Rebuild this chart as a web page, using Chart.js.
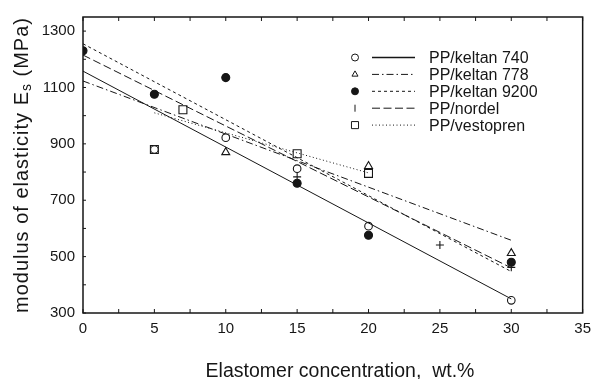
<!DOCTYPE html>
<html>
<head>
<meta charset="utf-8">
<script src="https://cdn.jsdelivr.net/npm/chart.js@4/dist/chart.umd.min.js"></script>
<style>
html,body{margin:0;padding:0;background:#fff;}
#wrap{width:598px;height:379px;}
</style>
</head>
<body>
<div id="wrap"><canvas id="chart" width="598" height="379"></canvas></div>
<script>
// axis ticks
const xTicks = [0, 5, 10, 15, 20, 25, 30, 35];
const yTicks = [300, 500, 700, 900, 1100, 1300];

const seriesNames = ['PP/keltan 740', 'PP/keltan 778', 'PP/keltan 9200', 'PP/nordel', 'PP/vestopren'];

// measured points
const k740X = [5, 10, 15, 20, 30];
const k740Y = [880, 922, 812, 608, 345];
const k778X = [10, 20, 30];
const k778Y = [870, 821, 512];
const k9200X = [0, 5, 10, 15, 20, 30];
const k9200Y = [1230, 1076, 1135, 760, 576, 480];
const nordelX = [15, 25, 30];
const nordelY = [783, 541, 462];
const vestoX = [5, 7, 15, 20];
const vestoY = [880, 1021, 865, 795];

// regression lines (end points)
const fit740X = [0, 30],  fit740Y = [1158, 350];
const fit778X = [0, 30],  fit778Y = [1123, 558];
const fit9200X = [0, 30], fit9200Y = [1255, 447];
const fitNordelX = [0, 30], fitNordelY = [1215, 460];
const fitVestoX = [5, 20], fitVestoY = [1010, 797];

const ink = '#161616';
const pts = (xs, ys) => xs.map((x, i) => ({x, y: ys[i]}));

const series = [
  {px: k740X, py: k740Y, fx: fit740X, fy: fit740Y, style: 'circle', r: 3.8, fill: '#fff', dash: [], legStyle: 'circle', legRot: 0},
  {px: k778X, py: k778Y, fx: fit778X, fy: fit778Y, style: 'triangle', r: 4.6, fill: '#fff', dash: [7, 3, 1.5, 3], legStyle: 'triangle', legRot: 0},
  {px: k9200X, py: k9200Y, fx: fit9200X, fy: fit9200Y, style: 'circle', r: 4, fill: ink, dash: [3, 3], legStyle: 'circle', legRot: 0},
  {px: nordelX, py: nordelY, fx: fitNordelX, fy: fitNordelY, style: 'cross', r: 4, fill: ink, dash: [8, 3.5], legStyle: 'line', legRot: 90},
  {px: vestoX, py: vestoY, fx: fitVestoX, fy: fitVestoY, style: 'rect', r: 5.6, fill: '#fff', dash: [1, 2.5], legStyle: 'rect', legRot: 0}
];

const datasets = [];
series.forEach((s, i) => {
  datasets.push({
    label: seriesNames[i] + ' fit', data: pts(s.fx, s.fy), showLine: true,
    borderColor: ink, borderWidth: 1, borderDash: s.dash, pointRadius: 0,
    clip: {left: 0, top: 0, right: 0, bottom: 0}
  });
  datasets.push({
    label: seriesNames[i], data: pts(s.px, s.py), showLine: false,
    pointStyle: s.style, pointRadius: s.r, pointBorderWidth: 1.1,
    pointBorderColor: ink, pointBackgroundColor: s.fill,
    clip: {left: 0, top: 0, right: 0, bottom: 0}
  });
});

const FONT = '"Liberation Sans", Arial, Helvetica, sans-serif';

const decor = {
  id: 'decor',
  afterDatasetsDraw(chart) {
    const {ctx, chartArea: a, scales: {x, y}} = chart;
    ctx.save();
    // frame
    ctx.strokeStyle = ink;
    ctx.lineWidth = 1.5;
    ctx.strokeRect(a.left, a.top, a.right - a.left, a.bottom - a.top);
    // inward ticks
    ctx.lineWidth = 1;
    ctx.beginPath();
    for (let v = 0; v <= 35; v += 2.5) {
      const px = x.getPixelForValue(v);
      ctx.moveTo(px, a.bottom); ctx.lineTo(px, a.bottom - 4);
      ctx.moveTo(px, a.top); ctx.lineTo(px, a.top + 4);
    }
    for (let v = 300; v <= 1300; v += 100) {
      const py = y.getPixelForValue(v);
      ctx.moveTo(a.left, py); ctx.lineTo(a.left + 3, py);
    }
    ctx.stroke();

    // legend
    ctx.font = '16px ' + FONT;
    ctx.textBaseline = 'middle';
    series.forEach((s, i) => {
      const ly = 57.5 + i * 16.9;
      ctx.strokeStyle = ink;
      ctx.fillStyle = s.fill;
      ctx.lineWidth = 1;
      Chart.helpers.drawPoint(ctx, {pointStyle: s.legStyle, radius: s.legStyle === 'rect' ? 5 : 3.5, rotation: s.legRot, borderWidth: 1}, 355, ly);
      ctx.setLineDash(s.dash);
      ctx.beginPath();
      ctx.moveTo(372, ly); ctx.lineTo(415, ly);
      ctx.lineWidth = i === 0 ? 1.6 : 1;
      ctx.stroke();
      ctx.setLineDash([]);
      ctx.fillStyle = ink;
      ctx.fillText(seriesNames[i], 429, ly + 1);
    });

    // x title
    ctx.font = '19.5px ' + FONT;
    ctx.textAlign = 'center';
    ctx.textBaseline = 'alphabetic';
    ctx.fillText('Elastomer concentration,  wt.%', 340, 376.5);

    // y title with subscript
    ctx.translate(22, 165);
    ctx.rotate(-Math.PI / 2);
    ctx.textAlign = 'left';
    ctx.textBaseline = 'middle';
    ctx.letterSpacing = '1px';
    const big = '20px ' + FONT, small = '14px ' + FONT;
    const p1 = 'modulus of elasticity E', p2 = 's', p3 = ' (MPa)';
    ctx.font = big; const w1 = ctx.measureText(p1).width, w3 = ctx.measureText(p3).width;
    ctx.font = small; const w2 = ctx.measureText(p2).width;
    let sx = -(w1 + w2 + w3) / 2;
    ctx.font = big; ctx.fillText(p1, sx, 0);
    ctx.font = small; ctx.fillText(p2, sx + w1, 5);
    ctx.font = big; ctx.fillText(p3, sx + w1 + w2, 0);
    ctx.restore();
  }
};

new Chart(document.getElementById('chart'), {
  type: 'scatter',
  data: {datasets},
  options: {
    responsive: false,
    animation: false,
    devicePixelRatio: 1,
    layout: {padding: {left: 0, top: 9, right: 12, bottom: 0}},
    plugins: {legend: {display: false}, tooltip: {enabled: false}},
    scales: {
      x: {
        type: 'linear', min: 0, max: 35,
        afterBuildTicks: s => { s.ticks = xTicks.map(v => ({value: v})); },
        afterFit: s => { s.height = 66; },
        grid: {display: false, drawTicks: false},
        border: {display: false},
        ticks: {color: ink, font: {family: FONT, size: 15}, padding: 7, maxRotation: 0, callback: v => String(v)}
      },
      y: {
        type: 'linear', min: 300, max: 1350,
        afterBuildTicks: s => { s.ticks = yTicks.map(v => ({value: v})); },
        afterFit: s => { s.width = 83; },
        grid: {display: false, drawTicks: false},
        border: {display: false},
        ticks: {color: ink, font: {family: FONT, size: 15}, padding: 8, callback: v => String(v)}
      }
    }
  },
  plugins: [decor]
});
</script>
</body>
</html>
